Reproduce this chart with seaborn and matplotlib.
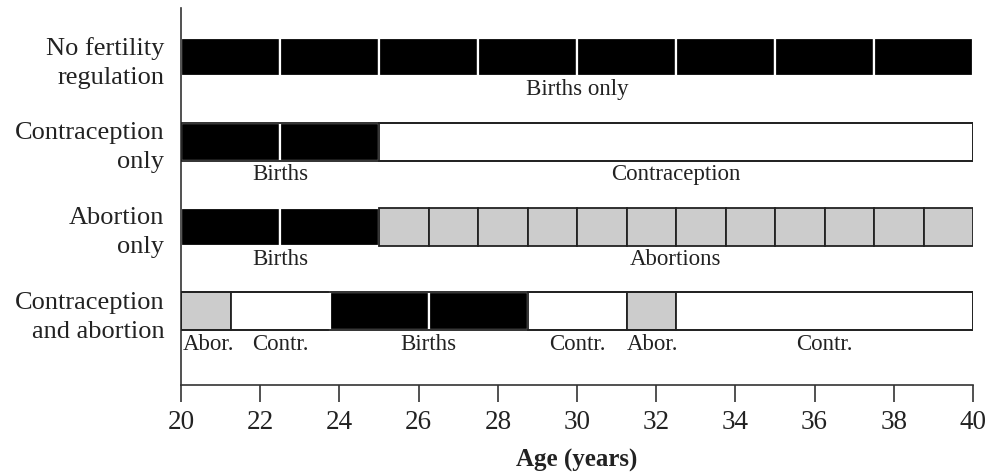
import matplotlib
matplotlib.use("Agg")

import matplotlib.pyplot as plt
import seaborn as sns

# -- data ------------------------------------------------------------
row_labels = [
    "No fertility\nregulation",
    "Contraception\nonly",
    "Abortion\nonly",
    "Contraception\nand abortion",
]

# segment boundaries (age, years) and kind of each segment, per row
no_reg_edges = [20, 22.5, 25, 27.5, 30, 32.5, 35, 37.5, 40]
no_reg_kinds = ["birth"] * 8

contra_edges = [20, 22.5, 25, 40]
contra_kinds = ["birth", "birth", "contr"]

abort_edges = [20, 22.5, 25, 26.25, 27.5, 28.75, 30, 31.25, 32.5,
               33.75, 35, 36.25, 37.5, 38.75, 40]
abort_kinds = ["birth", "birth"] + ["abort"] * 12

both_edges = [20, 21.25, 23.75, 26.25, 28.75, 31.25, 32.5, 40]
both_kinds = ["abort", "contr", "birth", "birth", "contr", "abort", "contr"]

# text under each bar: x position (age) and label
no_reg_text_x = [30]
no_reg_text = ["Births only"]
contra_text_x = [22.5, 32.5]
contra_text = ["Births", "Contraception"]
abort_text_x = [22.5, 32.5]
abort_text = ["Births", "Abortions"]
both_text_x = [20.7, 22.5, 26.25, 30, 31.9, 36.25]
both_text = ["Abor.", "Contr.", "Births", "Contr.", "Abor.", "Contr."]

x_ticks = list(range(20, 41, 2))

# -- style -----------------------------------------------------------
sns.set_theme(style="white")
plt.rcParams["font.family"] = ["Liberation Serif", "DejaVu Serif"]

STYLE = {
    "birth": dict(color="black", edgecolor="white", linewidth=1.6),
    "abort": dict(color="#cccccc", edgecolor="#222222", linewidth=1.3),
    "contr": dict(color="white", edgecolor="#222222", linewidth=1.3),
}

rows = [
    (no_reg_edges, no_reg_kinds, no_reg_text_x, no_reg_text),
    (contra_edges, contra_kinds, contra_text_x, contra_text),
    (abort_edges, abort_kinds, abort_text_x, abort_text),
    (both_edges, both_kinds, both_text_x, both_text),
]

fig = plt.figure(figsize=(9.94, 4.75), dpi=100)
ax = fig.add_axes([0.1821, 0.1895, 0.7968, 0.7937])

for i, (edges, kinds, tx, tlabels) in enumerate(rows):
    for left, right, kind in zip(edges[:-1], edges[1:], kinds):
        ax.barh(i, right - left, left=left, height=0.448, **STYLE[kind], zorder=2)
    # outline for rows that contain white segments
    if "contr" in kinds:
        ax.barh(i, edges[-1] - edges[0], left=edges[0], height=0.448,
                fill=False, edgecolor="#222222", linewidth=1.3, zorder=3)
    for x, t in zip(tx, tlabels):
        ax.text(x, i + 0.385, t, ha="center", va="center", fontsize=16.5,
                color="#222222")

ax.set_xlim(20, 40)
ax.set_ylim(3.867, -0.578)
ax.set_xticks(x_ticks)
ax.set_xticklabels([str(t) for t in x_ticks], fontsize=19.5, color="#222222")
ax.set_yticks(range(len(row_labels)))
ax.set_yticklabels(row_labels, fontsize=19, color="#222222", ha="right",
                   linespacing=1.4)
ax.tick_params(axis="x", direction="out", length=12, width=1.2,
               color="#333333", bottom=True, pad=6)
ax.tick_params(axis="y", length=0, pad=12)
ax.set_xlabel("Age (years)", fontsize=18, fontweight="bold", color="#222222",
              labelpad=10)

sns.despine(ax=ax)
for side in ("left", "bottom"):
    ax.spines[side].set_color("#333333")
    ax.spines[side].set_linewidth(1.2)
ax.spines["bottom"].set_zorder(4)

fig.savefig("out.png", dpi=100)
plt.close(fig)
